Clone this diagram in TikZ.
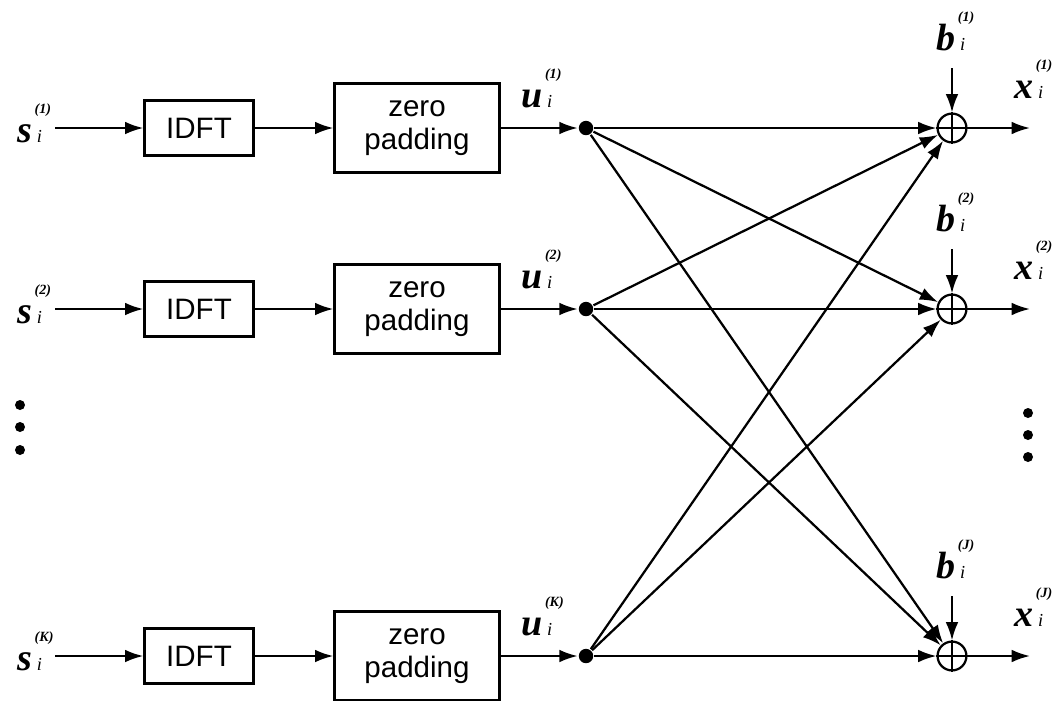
\documentclass[tikz,border=0pt]{standalone}
\usepackage{fontspec}
\setmainfont{Liberation Serif}
\newfontfamily\boxfont{Liberation Sans}
\usetikzlibrary{arrows.meta}

% signal label: bold italic letter, (index) on top, i below
\newcommand{\sig}[2]{{\fontsize{27}{27}\selectfont\bfseries\itshape #1}\hspace{2pt}\rlap{\raisebox{20pt}{\fontsize{10}{10}\selectfont\bfseries\itshape(#2)}}\hspace{1.5pt}{\fontsize{13}{13}\selectfont\itshape i}}

\begin{document}
\begin{tikzpicture}[x=0.025cm, y=-0.025cm, >={Latex[length=13pt,width=9pt]}, line width=1.6pt,
    blk/.style={draw, line width=1.6pt, font=\boxfont\fontsize{21}{24}\selectfont, align=center, inner sep=0pt},
    idft/.style={blk, minimum width=2.725cm, minimum height=1.375cm},
    zpad/.style={blk, minimum width=4.125cm, minimum height=2.225cm},
    split/.style={circle, fill, inner sep=0pt, minimum size=0.36cm},
    adder/.style={circle, draw, inner sep=0pt, minimum size=0.72cm},
    lbl/.style={anchor=base west, inner sep=0pt},
    vdot/.style={circle, fill, inner sep=0pt, minimum size=0.25cm}]

    \useasboundingbox (0,0) rectangle (1060,700);

    % one row per user: IDFT, zero padding, split point, adder
    \foreach \r/\y/\k/\j in {1/128/1/1, 2/309/2/2, 3/656/K/J}{
        \coordinate (in\r) at (55,\y);
        \node[lbl] (s\r) at (16,\y+14) {\sig{s}{\k}};
        \node[idft] (idft\r) at (199,\y) {IDFT};
        \node[zpad] (zp\r) at (417,\y) {zero\\padding};
        \node[split] (sp\r) at (586,\y) {};
        \node[lbl] (u\r) at (520,\y-21) {\sig{u}{\k}};
        \node[adder] (add\r) at (952,\y) {};
        \coordinate (bin\r) at (952,\y-60);
        \node[lbl] (b\r) at (935,\y-78) {\sig{b}{\j}};
        \coordinate (out\r) at (1030,\y);
        \node[lbl] (x\r) at (1013,\y-30) {\sig{x}{\j}};

        \draw[->] (in\r) -- (idft\r);
        \draw[->] (idft\r) -- (zp\r);
        \draw[->] (zp\r) -- (sp\r);
        \draw[->] (sp\r) -- (add\r);
        \draw[->] (bin\r) -- (add\r);
        \draw (add\r.west) -- (add\r.east) (add\r.north) -- (add\r.south);
        \draw[->] (add\r) -- (out\r);
    }

    % crossing paths
    \foreach \a/\b in {1/2, 1/3, 2/1, 2/3, 3/1, 3/2}
        \draw[->] (sp\a) -- (add\b);

    % vertical dots
    \foreach \yy [count=\i] in {405, 427, 450}
        \node[vdot] (ldot\i) at (20,\yy) {};
    \foreach \yy [count=\i] in {413, 435, 457}
        \node[vdot] (rdot\i) at (1028,\yy) {};

\end{tikzpicture}
\end{document}
